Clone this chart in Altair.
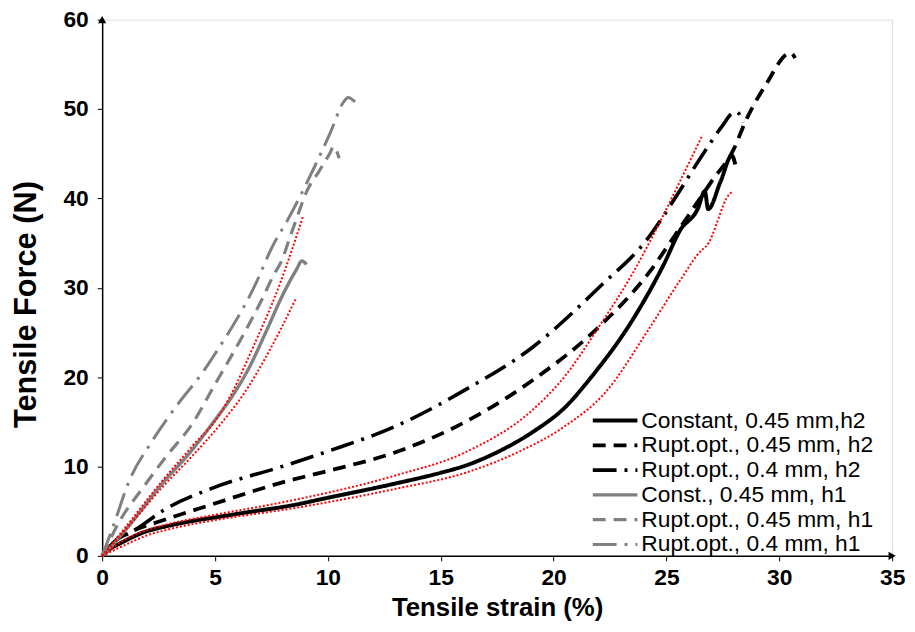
import altair as alt
import pandas as pd

# ---------------- data ----------------
series_names = [
    "Constant, 0.45 mm,h2",
    "Rupt.opt., 0.45 mm, h2",
    "Rupt.opt., 0.4 mm, h2",
    "Const., 0.45 mm, h1",
    "Rupt.opt., 0.45 mm, h1",
    "Rupt.opt., 0.4 mm, h1",
]

const_h2_x = [0, 0.3, 0.8, 1.8, 3.0, 4.0, 5.0, 6.5, 8.4, 10.0, 13.0, 15.0, 16.1, 17.5, 19.1, 20.5, 21.7, 23.5, 24.9, 25.6, 26.4, 26.7, 26.85, 27.4, 27.9, 28.05]
const_h2_y = [0, 0.7, 1.4, 2.6, 3.4, 3.9, 4.3, 4.9, 5.65, 6.5, 8.1, 9.3, 10.1, 11.6, 13.9, 16.6, 20.1, 26.4, 32.7, 36.4, 38.9, 40.8, 38.8, 41.9, 44.8, 43.8]

rupt045_h2_x = [0, 0.5, 1.2, 2.6, 4.8, 8.1, 10.0, 13.0, 16.1, 19.1, 22.0, 24.2, 25.6, 27.0, 28.0, 28.5, 29.4, 30.5, 30.7]
rupt045_h2_y = [0, 1.5, 2.6, 3.9, 5.7, 8.3, 9.5, 11.6, 15.0, 19.7, 25.6, 31.6, 36.7, 41.9, 45.6, 48.6, 52.7, 56.3, 55.7]

rupt04_h2_x = [0, 0.5, 1.4, 2.85, 4.8, 8.1, 10.0, 13.0, 16.1, 19.1, 22.0, 24.2, 25.5, 26.5, 27.5, 27.9, 28.1, 28.4]
rupt04_h2_y = [0, 1.5, 2.8, 5.3, 7.5, 10.1, 11.7, 14.5, 18.6, 23.4, 30.0, 35.6, 40.5, 44.5, 48.2, 49.5, 49.7, 48.5]

const_h1_x = [0, 0.2, 1.1, 2.6, 4.0, 5.0, 5.8, 6.5, 7.3, 8.0, 8.6, 8.85, 9.05]
const_h1_y = [0, 0.5, 3.1, 7.9, 11.9, 15.2, 18.0, 21.0, 25.3, 29.2, 32.0, 33.0, 32.6]

rupt045_h1_x = [0, 0.8, 1.8, 2.8, 4.0, 5.0, 6.2, 7.1, 7.55, 8.0, 8.3, 8.65, 9.05, 9.6, 10.1, 10.25, 10.5]
rupt045_h1_y = [0, 4.0, 7.6, 11.0, 14.8, 19.2, 24.5, 28.8, 31.2, 33.3, 35.5, 38.0, 40.7, 43.0, 45.1, 45.8, 44.5]

rupt04_h1_x = [0, 0.5, 1.2, 2.15, 3.3, 4.5, 5.0, 6.7, 7.6, 8.2, 8.6, 9.0, 10.1, 10.7, 10.9, 11.2]
rupt04_h1_y = [0, 3.4, 8.4, 12.6, 16.8, 20.7, 22.6, 29.9, 34.9, 37.5, 39.4, 41.4, 47.3, 50.8, 51.3, 50.8]

# red dotted bands (not in legend)
band_h2_upper_x = [0, 0.5, 1.0, 2.0, 3.0, 5.0, 8.4, 13.0, 16.1, 19.1, 20.5, 22.0, 23.5, 24.8, 25.6, 26.6]
band_h2_upper_y = [0, 1.0, 1.8, 2.9, 3.6, 4.6, 6.2, 9.0, 11.6, 16.4, 20.1, 25.6, 31.6, 37.8, 41.9, 47.1]
band_h2_lower_x = [0, 0.5, 1.0, 2.0, 3.0, 5.0, 8.4, 13.0, 16.1, 18.5, 20.5, 22.3, 24.2, 25.6, 26.6, 26.75, 27.8, 27.95]
band_h2_lower_y = [0, 0.6, 1.2, 2.3, 3.0, 4.0, 5.3, 7.5, 9.3, 11.7, 14.5, 18.3, 25.3, 30.8, 34.3, 34.6, 40.5, 40.8]
band_h1_upper_x = [0, 1.0, 2.6, 4.0, 5.2, 6.0, 6.5, 7.9, 8.9]
band_h1_upper_y = [0, 3.1, 8.2, 12.3, 15.8, 19.5, 22.3, 30.6, 38.0]
band_h1_lower_x = [0, 1.0, 2.6, 4.0, 5.2, 6.5, 7.2, 7.9, 8.6]
band_h1_lower_y = [0, 2.8, 7.5, 11.2, 14.6, 19.0, 22.0, 25.3, 28.9]

x_ticks = [0, 5, 10, 15, 20, 25, 30, 35]
y_ticks = [0, 10, 20, 30, 40, 50, 60]

# ---------------- styling ----------------
series_colors = ["#000000", "#000000", "#000000", "#808080", "#808080", "#808080"]
series_dashes = [[1, 0], [13, 8], [24, 8, 3, 8], [1, 0], [13, 8], [24, 8, 3, 8]]
series_widths = [4, 3, 3, 3, 3, 3]

# ---------------- tables ----------------
series_xy = [
    (const_h2_x, const_h2_y),
    (rupt045_h2_x, rupt045_h2_y),
    (rupt04_h2_x, rupt04_h2_y),
    (const_h1_x, const_h1_y),
    (rupt045_h1_x, rupt045_h1_y),
    (rupt04_h1_x, rupt04_h1_y),
]
rows = []
for name, (xs, ys) in zip(series_names, series_xy):
    for i, (xv, yv) in enumerate(zip(xs, ys)):
        rows.append({"series": name, "x": xv, "y": yv, "idx": i})
df = pd.DataFrame(rows)

band_xy = {
    "h2u": (band_h2_upper_x, band_h2_upper_y),
    "h2l": (band_h2_lower_x, band_h2_lower_y),
    "h1u": (band_h1_upper_x, band_h1_upper_y),
    "h1l": (band_h1_lower_x, band_h1_lower_y),
}
brows = []
for b, (xs, ys) in band_xy.items():
    for i, (xv, yv) in enumerate(zip(xs, ys)):
        brows.append({"band": b, "x": xv, "y": yv, "idx": i})
bdf = pd.DataFrame(brows)

arrow_df = pd.DataFrame({"x": [0, 35], "y": [60, 0], "shape": ["triangle-up", "triangle-right"]})

FONT = "Liberation Sans, Arial, sans-serif"

xscale = alt.Scale(domain=[0, 35], nice=False, zero=False)
yscale = alt.Scale(domain=[0, 60], nice=False, zero=False)

x_axis = alt.Axis(
    values=x_ticks, title="Tensile strain (%)", grid=False,
    labelFont=FONT, labelFontWeight="bold", labelFontSize=23, labelColor="black",
    labelPadding=6, tickSize=5, tickColor="black", domainColor="black", domainWidth=1.5,
    titleFont=FONT, titleFontWeight="bold", titleFontSize=26, titleColor="black",
    titlePadding=5, labelFlush=False,
)
y_axis = alt.Axis(
    values=y_ticks, title="Tensile Force (N)", grid=False,
    labelFont=FONT, labelFontWeight="bold", labelFontSize=23, labelColor="black",
    labelPadding=9, tickSize=5, tickColor="black", domainColor="black", domainWidth=1.5,
    titleFont=FONT, titleFontWeight="bold", titleFontSize=31, titleColor="black",
    titleX=-60, titleY=287, titleAlign="center", titleAngle=270, titleBaseline="bottom",
    labelFlush=False,
)

# long horizontal stroke symbol inside a small symbol box (keeps rows tight)
legend = alt.Legend(
    title=None, orient="none", legendX=506, legendY=393,
    symbolType="M-2.5,0H2.5", symbolSize=324, labelFont=FONT, labelFontSize=23,
    labelColor="black", rowPadding=1, labelOffset=15, padding=0, labelLimit=400,
)

lines = alt.Chart(df).mark_line(interpolate="monotone", strokeCap="butt").encode(
    x=alt.X("x:Q", scale=xscale, axis=x_axis),
    y=alt.Y("y:Q", scale=yscale, axis=y_axis),
    color=alt.Color("series:N", scale=alt.Scale(domain=series_names, range=series_colors), legend=legend),
    strokeDash=alt.StrokeDash("series:N", scale=alt.Scale(domain=series_names, range=series_dashes), legend=legend),
    strokeWidth=alt.StrokeWidth("series:N", scale=alt.Scale(domain=series_names, range=series_widths), legend=legend),
    order="idx:Q",
)

bands = alt.Chart(bdf).mark_line(
    interpolate="monotone", color="#FF0000", strokeDash=[2, 2], strokeWidth=2
).encode(
    x=alt.X("x:Q", scale=xscale),
    y=alt.Y("y:Q", scale=yscale),
    detail="band:N",
    order="idx:Q",
)

arrows = alt.Chart(arrow_df).mark_point(filled=True, color="black", opacity=1, size=70).encode(
    x=alt.X("x:Q", scale=xscale),
    y=alt.Y("y:Q", scale=yscale),
    shape=alt.Shape("shape:N", scale=None),
)

chart = alt.layer(lines, bands, arrows).properties(
    width=797, height=541,
    padding={"left": 95, "top": 9, "right": 15, "bottom": 66},
    autosize=alt.AutoSizeParams(type="none"),
).configure_view(stroke=None).configure(background="white")

chart.save("out.html", embed_options={"renderer": "svg", "actions": False})
